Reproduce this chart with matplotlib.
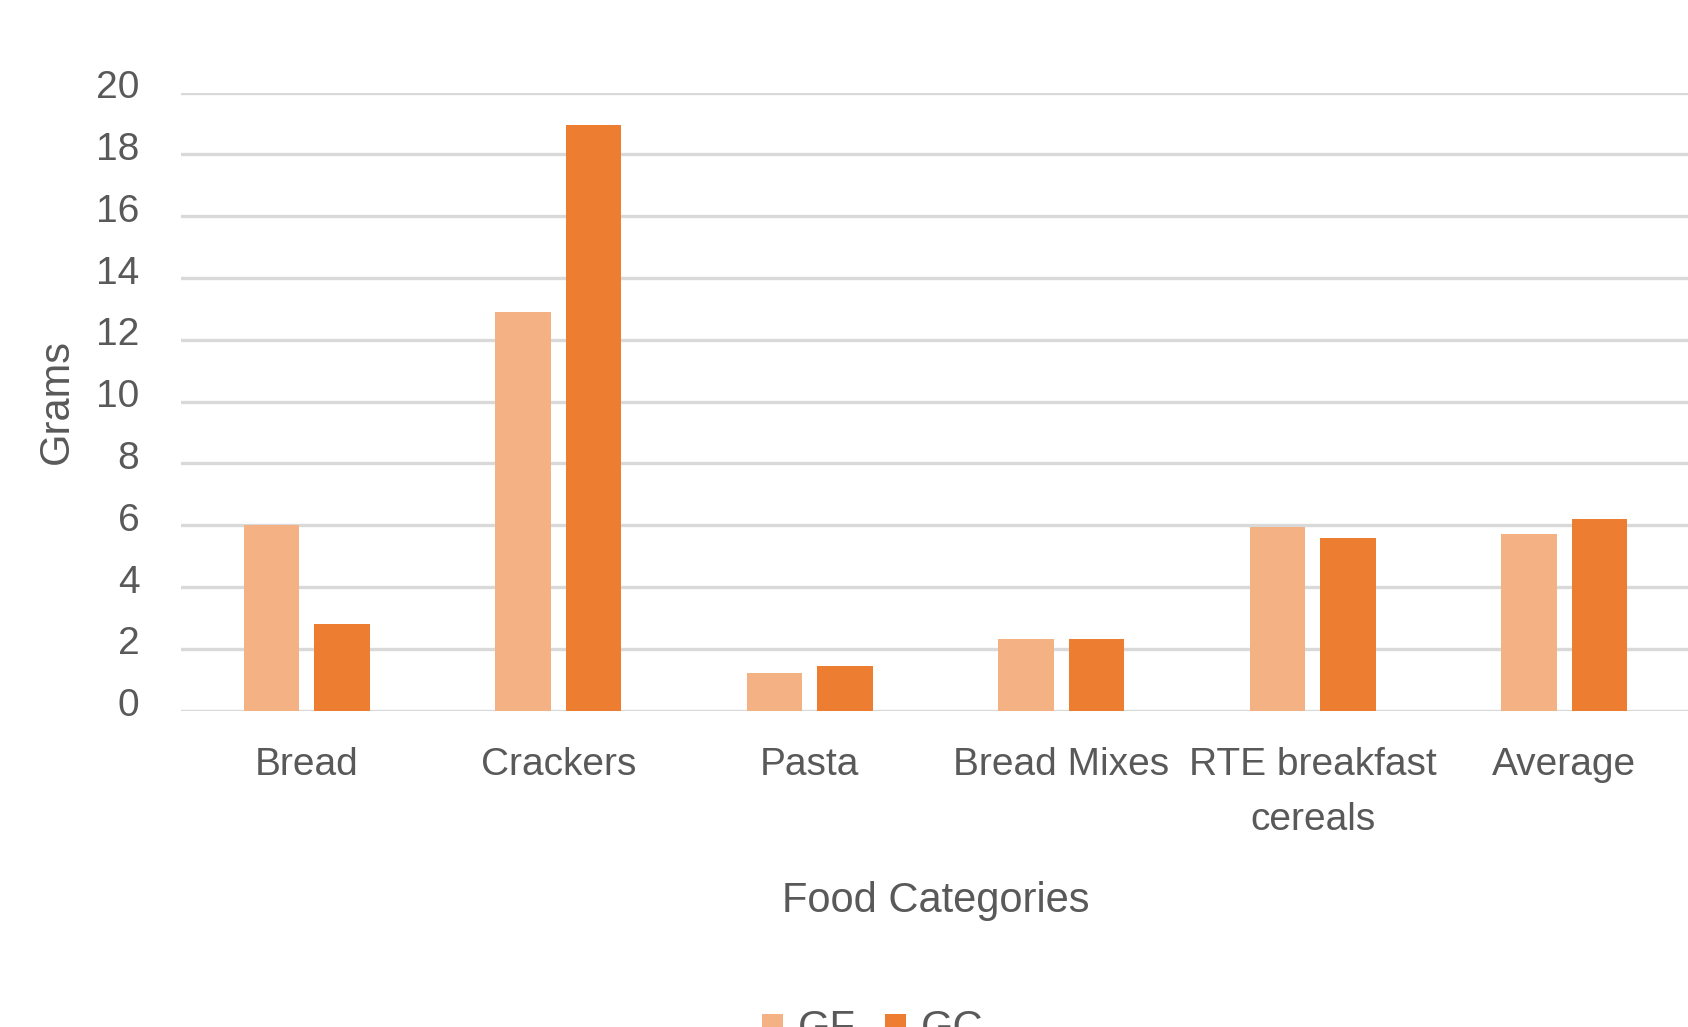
import matplotlib.pyplot as plt
import matplotlib.transforms as mtransforms
import numpy as np

# grams per serving, gluten-free (GF) vs gluten-containing (GC)
categories = ["Bread", "Crackers", "Pasta", "Bread Mixes", "RTE breakfast\ncereals", "Average"]
gf_values = [6.0, 12.9, 1.2, 2.3, 5.95, 5.7]
gc_values = [2.8, 18.95, 1.45, 2.3, 5.6, 6.2]
y_ticks = list(range(0, 21, 2))

plt.rcParams["font.family"] = ["Liberation Sans", "DejaVu Sans"]
text_color = "#595959"

fig = plt.figure(figsize=(16.88, 10.27), dpi=100)
ax = fig.add_axes([181 / 1688, 1 - 710.5 / 1027, 1509 / 1688, (710.5 - 92.7) / 1027])

x = np.arange(len(categories))
ax.bar(x - 0.14, gf_values, width=0.22, color="#F4B183", label="GF", zorder=3)
ax.bar(x + 0.14, gc_values, width=0.22, color="#ED7D31", label="GC", zorder=3)

ax.set_xlim(-0.5, len(categories) - 0.5)
ax.set_ylim(0, 20)
ax.set_yticks(y_ticks)
ax.set_xticks(x)
ax.set_xticklabels(categories, fontsize=28, color=text_color, linespacing=1.68)
ax.tick_params(axis="y", labelsize=28, labelcolor=text_color, length=0, pad=30)
ax.tick_params(axis="x", length=0, pad=26)

# y tick labels sit a little above their gridlines
shift = mtransforms.ScaledTranslation(0, 6 / 72, fig.dpi_scale_trans)
for lbl in ax.get_yticklabels():
    lbl.set_transform(lbl.get_transform() + shift)

ax.yaxis.grid(True, color="#d9d9d9", linewidth=2.4, zorder=0)
for s in ax.spines.values():
    s.set_visible(False)

ax.set_xlabel("Food Categories", fontsize=30, color=text_color, labelpad=31)
ax.set_ylabel("Grams", fontsize=30, color=text_color, labelpad=14)

fig.legend(loc="upper center", bbox_to_anchor=(873 / 1688, 1 - 972 / 1027), ncol=2,
           frameon=False, fontsize=30, labelcolor=text_color, handlelength=0.5,
           handleheight=0.5, handletextpad=0.36, columnspacing=0.7)

fig.savefig("out.png", dpi=100)
